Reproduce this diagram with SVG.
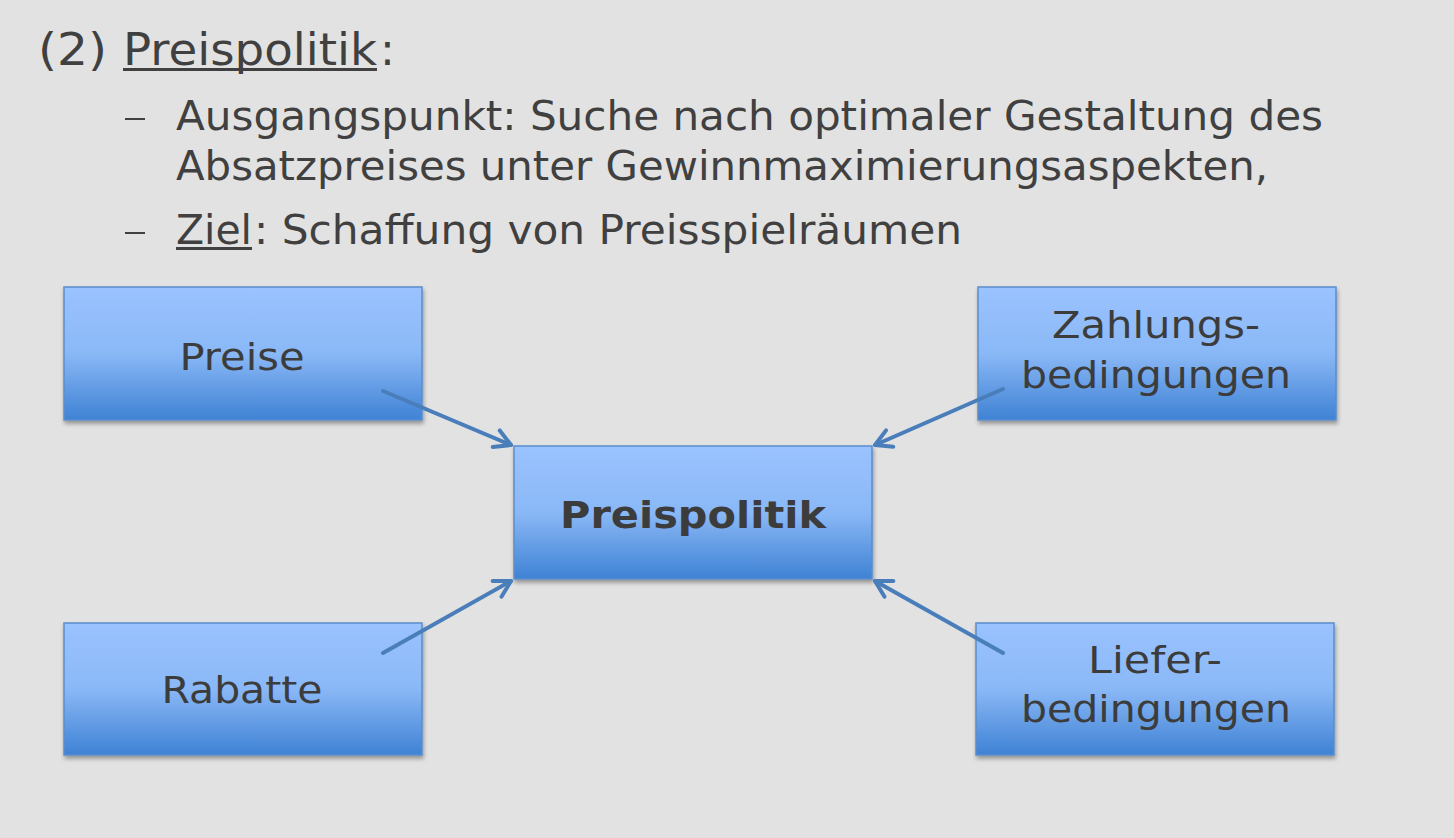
<svg xmlns="http://www.w3.org/2000/svg" width="1454" height="838" viewBox="0 0 1454 838">
<defs>
<linearGradient id="g" x1="0" y1="0" x2="0" y2="1">
<stop offset="0" stop-color="#9ac3ff"/>
<stop offset="0.5" stop-color="#8ab8f6"/>
<stop offset="1" stop-color="#3f82d4"/>
</linearGradient>
<filter id="sh" x="-5%" y="-5%" width="115%" height="120%">
<feGaussianBlur in="SourceAlpha" stdDeviation="2"/>
<feOffset dx="1" dy="3"/>
<feComponentTransfer><feFuncA type="linear" slope="0.35"/></feComponentTransfer>
<feMerge><feMergeNode/><feMergeNode in="SourceGraphic"/></feMerge>
</filter>
<marker id="ah" viewBox="-20 -15 30 30" refX="0" refY="0" markerWidth="30" markerHeight="30" markerUnits="userSpaceOnUse" orient="auto" overflow="visible">
<path d="M-16,-9 L0,0 L-16,9" fill="none" stroke="#4a7ebb" stroke-width="4" stroke-linecap="round" stroke-linejoin="round"/>
</marker>
</defs>
<style>
.t{font-family:"DejaVu Sans","Liberation Sans",sans-serif;fill:#404040}
.box{fill:url(#g);stroke:#5b8dcc;stroke-width:1.5;filter:url(#sh)}
.bt{font-family:"DejaVu Sans","Liberation Sans",sans-serif;fill:#3c3c3c;font-size:38px;text-anchor:middle}
.c{stroke:#4a7ebb;stroke-width:4;fill:none;stroke-linecap:round;marker-end:url(#ah)}
</style>
<rect x="0" y="0" width="1454" height="838" fill="#e2e2e2"/>
<g id="text">
<text class="t" x="38" y="65" font-size="44" textLength="69" lengthAdjust="spacingAndGlyphs">(2)</text>
<text class="t" x="123" y="65" font-size="44" textLength="254" lengthAdjust="spacingAndGlyphs">Preispolitik</text>
<text class="t" x="380" y="65" font-size="44">:</text>
<rect x="123" y="68" width="254" height="3" fill="#404040"/>
<rect x="125" y="118" width="20" height="2" fill="#404040"/>
<text class="t" x="176" y="130" font-size="41" textLength="1147" lengthAdjust="spacingAndGlyphs">Ausgangspunkt: Suche nach optimaler Gestaltung des</text>
<text class="t" x="176" y="180" font-size="41" textLength="1092" lengthAdjust="spacingAndGlyphs">Absatzpreises unter Gewinnmaximierungsaspekten,</text>
<rect x="125" y="232" width="20" height="2" fill="#404040"/>
<text class="t" x="176" y="244" font-size="41" textLength="76" lengthAdjust="spacingAndGlyphs">Ziel</text>
<text class="t" x="254" y="244" font-size="41" textLength="708" lengthAdjust="spacingAndGlyphs">: Schaffung von Preisspielräumen</text>
<rect x="176" y="247" width="76" height="3" fill="#404040"/>
</g>
<g id="node-preise">
<rect class="box" x="64" y="287" width="358" height="133"/>
<text class="bt" x="242" y="370" textLength="125" lengthAdjust="spacingAndGlyphs">Preise</text>
</g>
<g id="node-zahlung">
<rect class="box" x="978" y="287" width="358" height="133"/>
<text class="bt" x="1156" y="338" textLength="208" lengthAdjust="spacingAndGlyphs">Zahlungs-</text>
<text class="bt" x="1156" y="388" textLength="270" lengthAdjust="spacingAndGlyphs">bedingungen</text>
</g>
<g id="node-center">
<rect class="box" x="514" y="446" width="358" height="133"/>
<text class="bt" x="693" y="528" font-weight="bold" textLength="266" lengthAdjust="spacingAndGlyphs">Preispolitik</text>
</g>
<g id="node-rabatte">
<rect class="box" x="64" y="623" width="358" height="132"/>
<text class="bt" x="242" y="703" textLength="161" lengthAdjust="spacingAndGlyphs">Rabatte</text>
</g>
<g id="node-liefer">
<rect class="box" x="976" y="623" width="358" height="132"/>
<text class="bt" x="1155" y="673" textLength="134" lengthAdjust="spacingAndGlyphs">Liefer-</text>
<text class="bt" x="1156" y="722" textLength="270" lengthAdjust="spacingAndGlyphs">bedingungen</text>
</g>
<g id="connectors">
<line class="c" x1="383" y1="391" x2="511" y2="445"/>
<line class="c" x1="1003" y1="389" x2="875" y2="445"/>
<line class="c" x1="383" y1="653" x2="511" y2="581"/>
<line class="c" x1="1003" y1="653" x2="875" y2="581"/>
</g>
</svg>
